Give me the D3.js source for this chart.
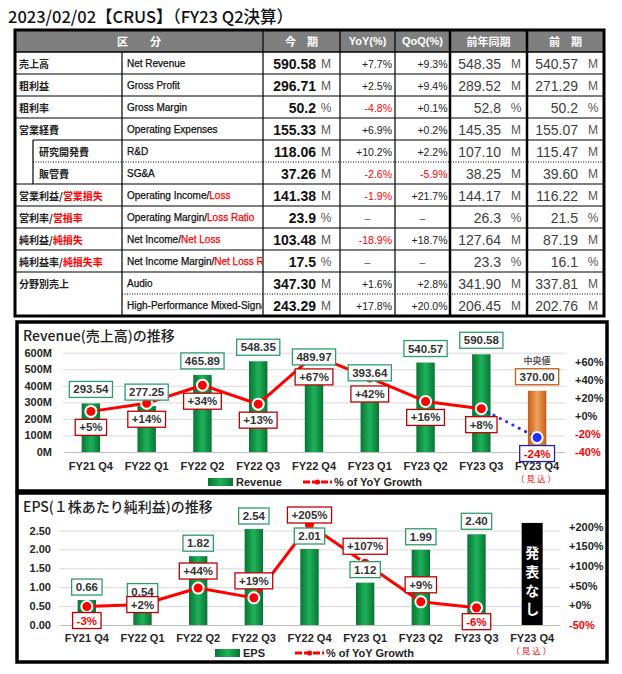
<!DOCTYPE html>
<html>
<head>
<meta charset="utf-8">
<script src="https://cdn.jsdelivr.net/npm/d3@7"></script>
<style>
body { margin: 0; background: #fff; }
text { font-family: "Liberation Sans", "Noto Sans CJK JP", sans-serif; }
</style>
</head>
<body>
<svg id="chart" width="622" height="674"></svg>
<script>
// ---- data ----
const quarters = ["FY21 Q4", "FY22 Q1", "FY22 Q2", "FY22 Q3", "FY22 Q4", "FY23 Q1", "FY23 Q2", "FY23 Q3", "FY23 Q4"];
const forecastQuarter = "FY23 Q4";
const revenue = [293.54, 277.25, 465.89, 548.35, 489.97, 393.64, 540.57, 590.58, 370.00];
const revenueYoY = [5, 14, 34, 13, 67, 42, 16, 8, -24];
const eps = [0.66, 0.54, 1.82, 2.54, 2.01, 1.12, 1.99, 2.40];
const epsYoY = [-3, 2, 44, 19, 205, 107, 9, -6];
const epsNoGuidance = 2.7; // 発表なし placeholder bar height
const revLeftTicks = [0, 100, 200, 300, 400, 500, 600];
const revRightTicks = [-40, -20, 0, 20, 40, 60];
const epsLeftTicks = [0, 0.5, 1, 1.5, 2, 2.5];
const epsRightTicks = [-50, 0, 50, 100, 150, 200];

// table
const rowJa = ["売上高", "粗利益", "粗利率", "営業経費", "研究開発費", "販管費", "営業利益/営業損失", "営利率/営損率", "純利益/純損失", "純利益率/純損失率", "分野別売上", ""];
const rowEn = ["Net Revenue", "Gross Profit", "Gross Margin", "Operating Expenses", "R&D", "SG&A", "Operating Income/Loss", "Operating Margin/Loss Ratio", "Net Income/Net Loss", "Net Income Margin/Net Loss Ratio", "Audio", "High-Performance Mixed-Signal"];
const curVal = ["590.58", "296.71", "50.2", "155.33", "118.06", "37.26", "141.38", "23.9", "103.48", "17.5", "347.30", "243.29"];
const units = ["M", "M", "%", "M", "M", "M", "M", "%", "M", "%", "M", "M"];
const yoyTxt = ["+7.7%", "+2.5%", "-4.8%", "+6.9%", "+10.2%", "-2.6%", "-1.9%", "–", "-18.9%", "–", "+1.6%", "+17.8%"];
const qoqTxt = ["+9.3%", "+9.4%", "+0.1%", "+0.2%", "+2.2%", "-5.9%", "+21.7%", "–", "+18.7%", "–", "+2.8%", "+20.0%"];
const prevYear = ["548.35", "289.52", "52.8", "145.35", "107.10", "38.25", "144.17", "26.3", "127.64", "23.3", "341.90", "206.45"];
const prevQtr = ["540.57", "271.29", "50.2", "155.07", "115.47", "39.60", "116.22", "21.5", "87.19", "16.1", "337.81", "202.76"];
const headers = ["区　　分", "今　期", "YoY(%)", "QoQ(%)", "前年同期", "前　期"];

// label placement keywords (layout, not data)
const revPctPlace = ["below", "below", "below", "below", "stackBelow", "below", "below", "below", "below"];
const epsPctPlace = ["below", "center", "above", "above", "stackAbove", "above", "above", "below"];

const RED = "#ff0000";
const svg = d3.select("#chart");
svg.append("rect").attr("width", 622).attr("height", 674).attr("fill", "#fff");

const defs = svg.append("defs");
function gradient(id, edge, mid) {
    const lg = defs.append("linearGradient").attr("id", id).attr("x1", 0).attr("x2", 1).attr("y1", 0).attr("y2", 0);
    lg.append("stop").attr("offset", "0%").attr("stop-color", edge);
    lg.append("stop").attr("offset", "50%").attr("stop-color", mid);
    lg.append("stop").attr("offset", "100%").attr("stop-color", edge);
}
gradient("gGreen", "#087434", "#1fb25a");
gradient("gOrange", "#c25e16", "#f0a15c");

// title
svg.append("text")
    .attr("x", 8).attr("y", 23)
    .style("font-family", "'Noto Sans CJK JP'")
    .attr("font-size", 16.5).attr("font-weight", 500).attr("fill", "#111")
    .text("2023/02/02【CRUS】（FY23 Q2決算）");

// ---- table ----
const colX = [15, 122, 263, 340, 395, 450, 527, 604];
const tableTop = 30, headH = 22, rowH = 22, indentX = 33;
const rowY = i => tableTop + headH + i * rowH;
const tableBottom = rowY(rowJa.length);
const table = svg.append("g");

table.append("rect")
    .attr("x", colX[0]).attr("y", tableTop)
    .attr("width", colX[7] - colX[0]).attr("height", headH)
    .attr("fill", "#7f7f7f");

const headCenters = [(colX[0] + colX[2]) / 2, (colX[2] + colX[3]) / 2, (colX[3] + colX[4]) / 2,
    (colX[4] + colX[5]) / 2, (colX[5] + colX[6]) / 2, (colX[6] + colX[7]) / 2];
table.selectAll(".head")
    .data(headers)
    .join("text")
    .attr("x", (d, i) => headCenters[i])
    .attr("y", tableTop + headH / 2)
    .attr("text-anchor", "middle")
    .attr("dominant-baseline", "central")
    .attr("fill", "#fff")
    .attr("font-size", 11)
    .attr("font-weight", "bold")
    .style("font-family", (d, i) => (i === 2 || i === 3) ? "'Liberation Sans'" : "'Noto Sans CJK JP'")
    .text(d => d);

// horizontal rules
d3.range(1, rowJa.length).forEach(i => {
    let x0 = colX[0], dotted = false;
    if (i === 4) x0 = indentX;
    if (i === 5) { x0 = indentX; dotted = true; }
    if (i === 11) { x0 = colX[1]; dotted = true; }
    table.append("line")
        .attr("x1", x0).attr("x2", colX[7])
        .attr("y1", rowY(i)).attr("y2", rowY(i))
        .attr("stroke", "#000")
        .attr("stroke-width", dotted ? 1 : 1.2)
        .attr("stroke-dasharray", dotted ? "1,1.5" : null);
});
table.append("line")
    .attr("x1", colX[0]).attr("x2", colX[7])
    .attr("y1", rowY(0)).attr("y2", rowY(0))
    .attr("stroke", "#000").attr("stroke-width", 1.5);
table.append("line")
    .attr("x1", indentX).attr("x2", indentX)
    .attr("y1", rowY(4)).attr("y2", rowY(6))
    .attr("stroke", "#000").attr("stroke-width", 1.2);

// vertical rules
[1, 2, 3, 4, 5, 6].forEach(c => {
    table.append("line")
        .attr("x1", colX[c]).attr("x2", colX[c])
        .attr("y1", c === 1 ? rowY(0) : tableTop).attr("y2", tableBottom)
        .attr("stroke", "#000")
        .attr("stroke-width", (c === 5 || c === 6) ? 2.5 : 1.2);
});
table.append("rect")
    .attr("x", colX[0]).attr("y", tableTop)
    .attr("width", colX[7] - colX[0]).attr("height", tableBottom - tableTop)
    .attr("fill", "none").attr("stroke", "#000").attr("stroke-width", 3);

defs.append("clipPath").attr("id", "clipEn")
    .append("rect").attr("x", colX[1]).attr("y", tableTop).attr("width", colX[2] - colX[1] - 1).attr("height", tableBottom - tableTop);

function splitLabel(sel, str) {
    const parts = str.split("/");
    sel.append("tspan").text(parts[0]);
    if (parts.length > 1) {
        sel.append("tspan").text("/");
        sel.append("tspan").attr("fill", RED).text(parts[1]);
    }
}

rowJa.forEach((ja, i) => {
    const cy = rowY(i) + rowH / 2;
    const indent = (i === 4 || i === 5);
    const tj = table.append("text")
        .attr("x", indent ? 39 : 19).attr("y", cy)
        .attr("dominant-baseline", "central")
        .attr("font-size", 10).attr("font-weight", "bold").attr("fill", "#222")
        .style("font-family", "'Noto Sans CJK JP'");
    splitLabel(tj, ja);

    const te = table.append("text")
        .attr("x", 127).attr("y", cy)
        .attr("dominant-baseline", "central")
        .attr("clip-path", "url(#clipEn)")
        .attr("font-size", 10).attr("fill", "#111")
        .attr("stroke", "currentColor").attr("stroke-width", 0.25)
        .style("font-family", "'Liberation Sans'");
    splitLabel(te, rowEn[i]);
    te.selectAll("tspan").filter(function () { return d3.select(this).attr("fill") === RED; })
        .attr("stroke", RED);
    te.attr("stroke", "#111");

    // current period
    table.append("text")
        .attr("x", 316).attr("y", cy + 1)
        .attr("text-anchor", "end").attr("dominant-baseline", "central")
        .attr("font-size", 14).attr("font-weight", "bold").attr("fill", "#111")
        .text(curVal[i]);
    table.append("text")
        .attr("x", 326).attr("y", cy + 1)
        .attr("text-anchor", "middle").attr("dominant-baseline", "central")
        .attr("font-size", 12).attr("fill", "#555")
        .text(units[i]);

    [[yoyTxt[i], 392, colX[3], colX[4]], [qoqTxt[i], 447.5, colX[4], colX[5]]].forEach(([t, xr, a, b]) => {
        const dash = t === "–";
        table.append("text")
            .attr("x", dash ? (a + b) / 2 : xr).attr("y", cy + 1)
            .attr("text-anchor", dash ? "middle" : "end")
            .attr("dominant-baseline", "central")
            .attr("font-size", 10.5)
            .attr("fill", t.startsWith("-") ? RED : (dash ? "#555" : "#222"))
            .text(t);
    });

    [[prevYear[i], 501, 516], [prevQtr[i], 578, 593]].forEach(([v, xr, xu]) => {
        table.append("text")
            .attr("x", xr).attr("y", cy + 1)
            .attr("text-anchor", "end").attr("dominant-baseline", "central")
            .attr("font-size", 14).attr("fill", "#404040")
            .text(v);
        table.append("text")
            .attr("x", xu).attr("y", cy + 1)
            .attr("text-anchor", "middle").attr("dominant-baseline", "central")
            .attr("font-size", 12).attr("fill", "#555")
            .text(units[i]);
    });
});

// ---- chart helpers ----
function labelBox(g, cx, cy, text, stroke, color) {
    const grp = g.append("g");
    const t = grp.append("text")
        .attr("x", cx).attr("y", cy)
        .attr("text-anchor", "middle").attr("dominant-baseline", "central")
        .attr("font-size", 11.5).attr("font-weight", "bold")
        .attr("fill", color)
        .text(text);
    const w = t.node().getComputedTextLength();
    grp.insert("rect", "text")
        .attr("x", cx - w / 2 - 4).attr("y", cy - 8)
        .attr("width", w + 8).attr("height", 16)
        .attr("fill", "#fff").attr("stroke", stroke).attr("stroke-width", 1.3);
}

const pctFmt = d => (d >= 0 ? "+" : "") + d + "%";

function panel(box, title, x, yL, yR, leftTicks, rightTicks, leftFmt, padL, padR, padB) {
    const g = svg.append("g");
    const [x0, x1] = x.range();
    g.append("rect")
        .attr("x", box.x).attr("y", box.y).attr("width", box.w).attr("height", box.h)
        .attr("fill", "#fff").attr("stroke", "#000").attr("stroke-width", 3.5);
    g.append("text")
        .attr("x", box.x + 6).attr("y", box.y + 13)
        .attr("dominant-baseline", "central")
        .attr("font-size", 14).attr("font-weight", 500).attr("fill", "#222")
        .style("font-family", "'Noto Sans CJK JP'")
        .text(title);

    // gridlines
    g.append("g")
        .attr("transform", `translate(${x0},0)`)
        .call(d3.axisLeft(yL).tickValues(leftTicks.slice(1)).tickSize(-(x1 - x0)).tickFormat(""))
        .call(s => s.select(".domain").remove())
        .selectAll("line").attr("stroke", "#d9d9d9");

    // left axis labels
    g.append("g")
        .attr("transform", `translate(${x0},0)`)
        .call(d3.axisLeft(yL).tickValues(leftTicks).tickSize(0).tickPadding(padL).tickFormat(leftFmt))
        .call(s => s.select(".domain").remove())
        .selectAll("text")
        .attr("font-size", 11).attr("font-weight", "bold").attr("fill", "#262626")
        .style("font-family", "'Liberation Sans'");

    // right axis labels
    g.append("g")
        .attr("transform", `translate(${x1},0)`)
        .call(d3.axisRight(yR).tickValues(rightTicks).tickSize(0).tickPadding(padR).tickFormat(pctFmt))
        .call(s => s.select(".domain").remove())
        .selectAll("text")
        .attr("font-size", 11).attr("font-weight", "bold")
        .attr("fill", d => d < 0 ? RED : "#262626")
        .style("font-family", "'Liberation Sans'");

    // bottom axis
    const base = yL.range()[0];
    const ax = g.append("g")
        .attr("transform", `translate(0,${base})`)
        .call(d3.axisBottom(x).tickSize(0).tickSizeOuter(0).tickPadding(padB));
    ax.select(".domain").attr("stroke", "#bfbfbf").attr("stroke-width", 1.2);
    ax.selectAll("text")
        .attr("font-size", 11).attr("font-weight", "bold").attr("fill", "#262626")
        .style("font-family", "'Liberation Sans'");
    g.append("text")
        .attr("x", x(forecastQuarter) + x.bandwidth() / 2).attr("y", base + padB + 16)
        .attr("text-anchor", "middle").attr("dominant-baseline", "central")
        .attr("font-size", 8.5).attr("fill", RED).attr("letter-spacing", 2)
        .style("font-family", "'Noto Sans CJK JP'")
        .text("（見込）");
    return g;
}

function legend(g, lx, ly, barName, lineX) {
    g.append("rect").attr("x", lx).attr("y", ly - 4).attr("width", 25).attr("height", 8).attr("fill", "url(#gGreen)");
    g.append("text").attr("x", lx + 28).attr("y", ly).attr("dominant-baseline", "central")
        .attr("font-size", 11).attr("font-weight", "bold").attr("fill", "#262626").text(barName);
    g.append("line").attr("x1", lineX).attr("x2", lineX + 29).attr("y1", ly).attr("y2", ly)
        .attr("stroke", RED).attr("stroke-width", 3).attr("stroke-dasharray", "7,2");
    g.append("circle").attr("cx", lineX + 14.5).attr("cy", ly).attr("r", 2.6).attr("fill", RED);
    g.append("text").attr("x", lineX + 31).attr("y", ly).attr("dominant-baseline", "central")
        .attr("font-size", 11).attr("font-weight", "bold").attr("fill", "#262626").text("% of YoY Growth");
}

function bandX(range) {
    return d3.scaleBand().domain(quarters).range(range).paddingInner(0.67).paddingOuter(0.335);
}

// ---- Revenue chart ----
{
    const x = bandX([63, 565]);
    const cx = q => x(q) + x.bandwidth() / 2;
    const yL = d3.scaleLinear().domain([0, 600]).range([452, 352.7]);
    const yR = d3.scaleLinear().domain([-40, 70]).range([452, 352.7]);
    const g = panel({ x: 17, y: 322, w: 590, h: 169 }, "Revenue(売上高)の推移", x, yL, yR,
        revLeftTicks, revRightTicks, d => d + "M", 11, 10, 10);

    g.selectAll(".bar")
        .data(quarters)
        .join("rect")
        .attr("x", d => x(d))
        .attr("y", (d, i) => yL(revenue[i]))
        .attr("width", x.bandwidth())
        .attr("height", (d, i) => yL(0) - yL(revenue[i]))
        .attr("fill", d => d === forecastQuarter ? "url(#gOrange)" : "url(#gGreen)");

    const actual = quarters.map((q, i) => [cx(q), yR(revenueYoY[i])]);
    const nAct = quarters.indexOf(forecastQuarter);
    g.append("path")
        .attr("d", d3.line()(actual.slice(0, nAct)))
        .attr("fill", "none").attr("stroke", RED).attr("stroke-width", 3).attr("stroke-linejoin", "round");
    g.append("path")
        .attr("d", d3.line()(actual.slice(nAct - 1)))
        .attr("fill", "none").attr("stroke", "#1f2fff").attr("stroke-width", 3)
        .attr("stroke-dasharray", "0.1,7").attr("stroke-linecap", "round");
    g.selectAll(".dot")
        .data(actual)
        .join("circle")
        .attr("cx", d => d[0]).attr("cy", d => d[1]).attr("r", 5.5)
        .attr("fill", (d, i) => i === nAct ? "#1f2fff" : RED)
        .attr("stroke", "#fff").attr("stroke-width", 2);

    quarters.forEach((q, i) => {
        const fc = q === forecastQuarter;
        const vy = yL(revenue[i]) - 14;
        labelBox(g, cx(q), vy, revenue[i].toFixed(2), fc ? "#c55a11" : "#2e9c6a", "#333");
        if (fc) {
            g.append("text").attr("x", cx(q)).attr("y", vy - 16)
                .attr("text-anchor", "middle").attr("dominant-baseline", "central")
                .attr("font-size", 9).attr("font-weight", "bold").attr("fill", "#595959")
                .style("font-family", "'Noto Sans CJK JP'")
                .text("中央値");
        }
        const py = revPctPlace[i] === "stackBelow" ? vy + 20 : yR(revenueYoY[i]) + 16;
        labelBox(g, cx(q), py, pctFmt(revenueYoY[i]),
            fc ? "#2020b0" : "#c00000", revenueYoY[i] < 0 ? RED : "#333");
    });

    legend(g, 208, 482, "Revenue", 303);
}

// ---- EPS chart ----
{
    const x = bandX([59, 560]);
    const cx = q => x(q) + x.bandwidth() / 2;
    const yL = d3.scaleLinear().domain([0, 2.6]).range([625, 526.7]);
    const yR = d3.scaleLinear().domain([-50, 200]).range([625, 526.7]);
    const g = panel({ x: 17, y: 493, w: 590, h: 169 }, "EPS(１株あたり純利益)の推移", x, yL, yR,
        epsLeftTicks, epsRightTicks, d3.format(".2f"), 8, 9, 9);

    const reported = quarters.slice(0, eps.length);
    g.selectAll(".bar")
        .data(reported)
        .join("rect")
        .attr("x", d => x(d))
        .attr("y", (d, i) => yL(eps[i]))
        .attr("width", x.bandwidth())
        .attr("height", (d, i) => yL(0) - yL(eps[i]))
        .attr("fill", "url(#gGreen)");

    // no guidance bar
    const fx = cx(forecastQuarter);
    const top = yL(epsNoGuidance);
    g.append("rect")
        .attr("x", fx - 10.5).attr("y", top)
        .attr("width", 21).attr("height", yL(0) - top)
        .attr("fill", "#000");
    Array.from("発表なし").forEach((ch, k) => {
        g.append("text")
            .attr("x", fx).attr("y", top + 29 + k * 18.8)
            .attr("text-anchor", "middle").attr("dominant-baseline", "central")
            .attr("font-size", 14).attr("font-weight", "bold").attr("fill", "#fff")
            .style("font-family", "'Noto Sans CJK JP'")
            .text(ch);
    });

    const pts = reported.map((q, i) => [cx(q), yR(epsYoY[i])]);
    g.append("path")
        .attr("d", d3.line()(pts))
        .attr("fill", "none").attr("stroke", RED).attr("stroke-width", 3).attr("stroke-linejoin", "round");
    g.selectAll(".dot")
        .data(pts)
        .join("circle")
        .attr("cx", d => d[0]).attr("cy", d => d[1]).attr("r", 5.5)
        .attr("fill", RED).attr("stroke", "#fff").attr("stroke-width", 2);

    reported.forEach((q, i) => {
        const vy = yL(eps[i]) - 13;
        labelBox(g, cx(q), vy, eps[i].toFixed(2), "#2e9c6a", "#333");
        const p = yR(epsYoY[i]);
        const place = epsPctPlace[i];
        const py = place === "above" ? p - 17
            : place === "below" ? p + 14
            : place === "stackAbove" ? vy - 21
            : p;
        labelBox(g, cx(q), py, pctFmt(epsYoY[i]), "#c00000", epsYoY[i] < 0 ? RED : "#333");
    });

    legend(g, 215, 653, "EPS", 295);
}
</script>
</body>
</html>
